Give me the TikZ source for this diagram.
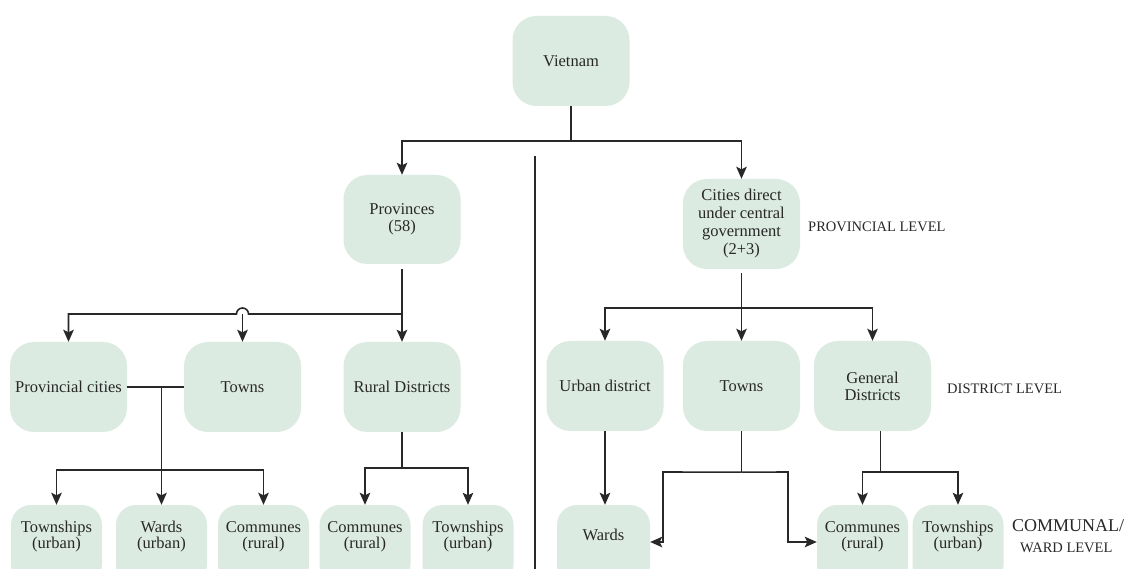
\documentclass[tikz,border=0pt]{standalone}
\usepackage{fontspec}
\setmainfont{Liberation Serif}
\usetikzlibrary{arrows.meta}
\definecolor{boxfill}{RGB}{220,235,225}
\definecolor{ink}{RGB}{40,40,40}
\begin{document}
\begin{tikzpicture}[x=1pt,y=-1pt,
  box/.style={rectangle, rounded corners=24pt, fill=boxfill, minimum width=117pt, minimum height=90pt, inner sep=2pt, align=center, text=ink, font=\fontsize{16.5}{17}\selectfont},
  sbox/.style={box, rounded corners=20pt, minimum width=91pt, minimum height=80pt, font=\fontsize{16.5}{16}\selectfont},
  conn/.style={draw=ink, line width=1.6pt},
  arr/.style={conn, -{Stealth[length=12pt,width=10.5pt,inset=2.5pt]}},
  sepline/.style={draw=ink, line width=2.4pt},
  lvl/.style={anchor=west, text=ink, inner sep=0pt, font=\fontsize{14.5}{15}\selectfont}]
\useasboundingbox (0,0) rectangle (1136,569);
\clip (0,0) rectangle (1136,569);
\fill[white] (0,0) rectangle (1136,569);

% top levels
\node[box] (viet) at (571,61) {Vietnam};
\node[box, minimum height=89pt] (prov) at (402,219.5) {Provinces\\(58)};
\node[box, font=\fontsize{16.5}{18}\selectfont] (cities) at (741.5,224) {Cities direct\\under central\\government\\(2+3)};

% district level
\node[box] (pcities) at (68.5,387) {Provincial cities};
\node[box] (townsL) at (242.5,387) {Towns};
\node[box] (rural) at (402,387) {Rural Districts};
\node[box] (urban) at (605,386) {Urban district};
\node[box] (townsR) at (741.5,386) {Towns};
\node[box] (general) at (872.5,386) {General\\Districts};

% communal level
\node[sbox] (tw1) at (56.5,545) {Townships\\(urban)\\\strut};
\node[sbox] (wardsL) at (161.5,545) {Wards\\(urban)\\\strut};
\node[sbox] (comL) at (263.5,545) {Communes\\(rural)\\\strut};
\node[sbox] (comR1) at (365,545) {Communes\\(rural)\\\strut};
\node[sbox] (twR1) at (468,545) {Townships\\(urban)\\\strut};
\node[sbox, minimum width=93pt] (wardsR) at (603.5,545) {Wards\\\strut};
\node[sbox] (comR2) at (862.5,545) {Communes\\(rural)\\\strut};
\node[sbox] (twR2) at (958,545) {Townships\\(urban)\\\strut};

% level labels
\node[lvl] (lp) at (808,227) {PROVINCIAL LEVEL};
\node[lvl] (ld) at (947,389) {DISTRICT LEVEL};
\node[lvl, font=\fontsize{18}{19}\selectfont] (lc) at (1012,526) {COMMUNAL/};
\node[lvl, font=\fontsize{14.5}{16}\selectfont] (lw) at (1020,548) {WARD LEVEL};

% separator
\coordinate (s1) at (535,156);
\coordinate (s2) at (535,575);
\draw[sepline] (s1) -- (s2);

% Vietnam
\draw[arr] (viet.south) -- ++(0,35) coordinate (vj) -| (prov.north);
\draw[arr] (vj) -| (cities.north);

% Provinces
\coordinate (pj) at (402,314);
\coordinate (hopR) at (248.5,314);
\draw[arr] ([yshift=-5pt]prov.south) -- (rural.north);
\draw[arr] (pj) -- (hopR) arc[start angle=0,end angle=180,radius=6pt] -| (pcities.north);
\draw[arr] (townsL.north |- pj) -- (townsL.north);

% Provincial cities / Towns (left)
\draw[conn] (pcities.east) -- (townsL.west);
\draw[arr] (wardsL.north |- pcities.east) -- (wardsL.north);
\coordinate (lh) at (161.5,470);
\draw[arr] (lh) -| (tw1.north);
\draw[arr] (lh) -| (comL.north);

% Rural districts
\draw[arr] (rural.south) -- ++(0,36) coordinate (rj) -| (comR1.north);
\draw[arr] (rj) -| (twR1.north);

% Cities
\draw[conn] ([yshift=-4pt]cities.south) -- ++(0,35) coordinate (cj);
\draw[arr] (cj) -| (urban.north);
\draw[arr] (cj) -| (general.north);
\draw[arr] (cj) -- (townsR.north);

% Urban district
\draw[arr] (urban.south) -- (urban.south |- wardsR.north);

% Towns (right)
\draw[conn] (townsR.south) -- ++(0,41) coordinate (tj);
\coordinate (tl) at (663,472);
\coordinate (tr) at (788,472);
\draw[arr] (tj) -- (tl) |- ([yshift=3pt]wardsR.east);
\draw[arr] (tj) -- (tr) |- ([yshift=3pt]comR2.west);

% General districts
\draw[conn] ([xshift=8pt]general.south) -- ++(0,41) coordinate (gj);
\draw[arr] (gj) -| (comR2.north);
\draw[arr] (gj) -| (twR2.north);
\end{tikzpicture}
\end{document}
